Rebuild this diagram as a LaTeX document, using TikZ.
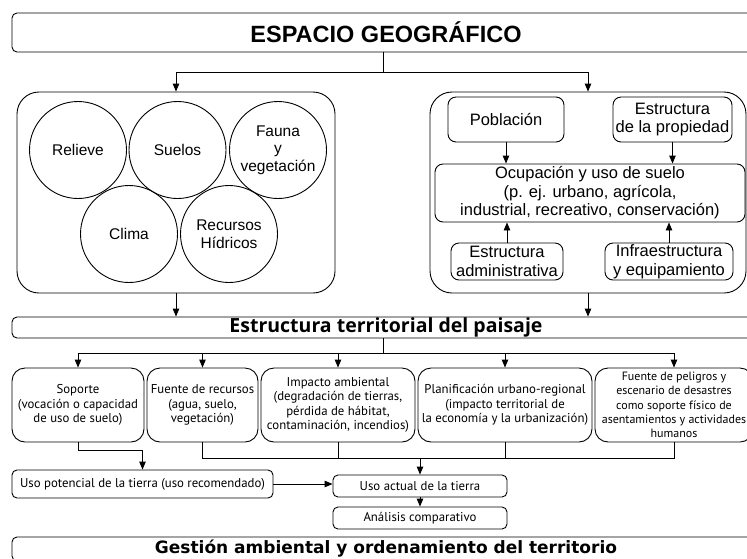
\documentclass[tikz,border=0pt]{standalone}
\usepackage{fontspec}
\setmainfont{Liberation Sans}
\newfontfamily\ptsans{PT Sans}
\newfontfamily\opensans{Open Sans}
\newfontfamily\dejavu{DejaVu Sans}
\usetikzlibrary{arrows.meta,positioning}

\begin{document}
\begin{tikzpicture}[x = 1pt, y = -1pt, line width = 0.9pt, >={Triangle[length = 8pt, width = 6.5pt]},
bigbox/.style = {draw, rounded corners = 22pt, inner sep = 0pt},
circ/.style = {draw, circle, minimum size = 97pt, inner sep = 0pt, align = center, font = \fontsize{15.5}{17.5}\selectfont},
ibox/.style = {draw, rounded corners = 8pt, inner sep = 0pt, align = center, font = \fontsize{16.5}{18.5}\selectfont},
rowbox/.style = {draw, rounded corners = 13pt, inner sep = 0pt, minimum height = 74pt, align = center, font = \ptsans\fontsize{12.8}{14.3}\selectfont},
smallbox/.style = {draw, rounded corners = 5pt, inner sep = 0pt, align = center, font = \ptsans\fontsize{12.8}{14.3}\selectfont},
band/.style = {draw, rounded corners = 5pt, inner sep = 0pt, minimum width = 748pt}]
\useasboundingbox (0,0) rectangle (747,558);
\node[band, minimum height = 39pt, font = \bfseries\fontsize{23.5}{25}\selectfont] (title) at (386,32.5) {ESPACIO GEOGRÁFICO};
\node[bigbox, minimum width = 318pt, minimum height = 201pt] (nat) at (176,192.5) {};
\node[bigbox, minimum width = 316pt, minimum height = 201pt] (soc) at (588,192.5) {};
\node[circ] (rel) at (78,150) {Relieve};
\node[circ] (sue) at (177.5,150) {Suelos};
\node[circ] (fau) at (278,150) {Fauna\\y\\vegetación};
\node[circ] (cli) at (129,234) {Clima};
\node[circ] (hid) at (229,234) {Recursos\\Hídricos};
\node[ibox, minimum width = 116pt, minimum height = 45pt] (pob) at (506,119.5) {Población};
\node[ibox, minimum width = 119pt, minimum height = 45pt] (prop) at (672.5,119.5) {Estructura\\de la propiedad};
\node[ibox, minimum width = 310pt, minimum height = 58pt] (ocup) at (590,193) {Ocupación y uso de suelo\\(p. ej. urbano, agrícola,\\industrial, recreativo, conservación)};
\node[ibox, minimum width = 112pt, minimum height = 37pt] (adm) at (507,261.5) {Estructura\\administrativa};
\node[ibox, minimum width = 128pt, minimum height = 37pt] (infra) at (669,261.5) {Infraestructura\\y equipamiento};
\node[band, minimum height = 21pt, font = \opensans\bfseries\fontsize{19.5}{21}\selectfont] (est) at (386,327.5) {Estructura territorial del paisaje};
\node[rowbox, minimum width = 132pt] (sop) at (78,405) {Soporte\\(vocación o capacidad\\de uso de suelo)};
\node[rowbox, minimum width = 111pt] (rec) at (202.5,405) {Fuente de recursos\\(agua, suelo,\\vegetación)};
\node[rowbox, minimum width = 154pt] (imp) at (338,405) {Impacto ambiental\\(degradación de tierras,\\pérdida de hábitat,\\contaminación, incendios)};
\node[rowbox, minimum width = 174pt] (pla) at (505,405) {Planificación urbano-regional\\(impacto territorial de\\la economía y la urbanización)};
\node[rowbox, minimum width = 158pt, font = \ptsans\fontsize{12}{14.3}\selectfont] (pel) at (674,405) {Fuente de peligros y\\escenario de desastres\\como soporte físico de\\asentamientos y actividades\\humanos};
\node[smallbox, minimum width = 261pt, minimum height = 28pt] (pot) at (142.5,484) {Uso potencial de la tierra (uso recomendado)};
\node[smallbox, minimum width = 174pt, minimum height = 22pt] (act) at (420,486) {Uso actual de la tierra};
\node[smallbox, minimum width = 174pt, minimum height = 22pt] (ana) at (420,518) {Análisis comparativo};
\node[band, minimum height = 24pt, font = \dejavu\bfseries\fontsize{17}{19}\selectfont] (ges) at (386,549) {Gestión ambiental y ordenamiento del territorio};
\coordinate (s1) at (383,72);
\draw (title.south -| s1) -- (s1);
\draw[->] (s1) -| (nat.north);
\draw[->] (s1) -| (soc.north);
\draw[->] (pob.south) -- (pob.south |- ocup.north);
\draw[->] (prop.south) -- (prop.south |- ocup.north);
\draw[->] (adm.north) -- (adm.north |- ocup.south);
\draw[->] (infra.north) -- (infra.north |- ocup.south);
\draw[->] (nat.south) -- (nat.south |- est.north);
\draw[->] (soc.south) -- (soc.south |- est.north);
\coordinate (s2) at (383,353);
\draw (est.south -| s2) -- (s2);
\foreach \n in {sop,rec,imp,pla,pel} \draw[->] (s2) -| (\n.north);
\draw[->] (sop.south) -- ++(0,8) -| (pot.north);
\coordinate (jn) at (420,458);
\draw (rec.south) |- (pel.south |- jn) -- (pel.south);
\draw (imp.south) -- (imp.south |- jn);
\draw (pla.south) -- (pla.south |- jn);
\draw[->] (jn) -- (act.north);
\draw[->] (pot.east) -- (pot.east -| act.west);
\draw[->] (act.south) -- (ana.north);
\end{tikzpicture}
\end{document}
